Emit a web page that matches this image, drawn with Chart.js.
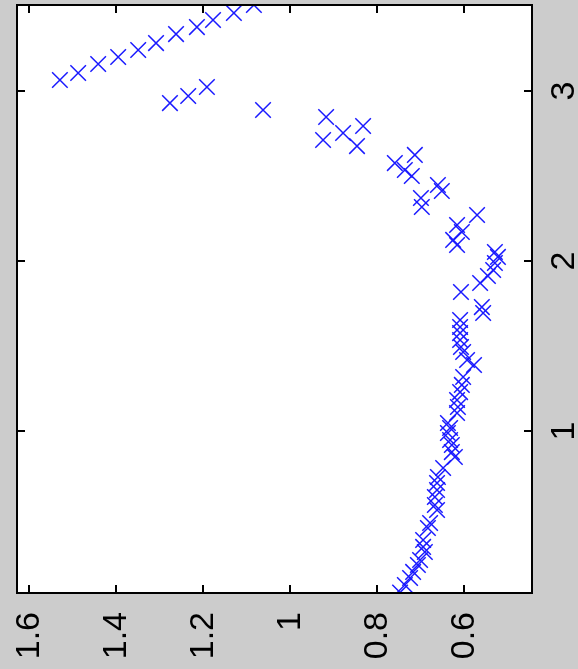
<!DOCTYPE html>
<html>
<head>
<meta charset="utf-8">
<script src="https://cdn.jsdelivr.net/npm/chart.js@4/dist/chart.umd.min.js"></script>
<style>
  html, body { margin: 0; padding: 0; background: #cccccc; }
  canvas { display: block; }
</style>
</head>
<body>
<canvas id="plot" width="578" height="669"></canvas>
<script>
// horizontal values (axis reversed, 1.6 on the left) and vertical values
const hVals = [
  1.529, 1.487, 1.441, 1.395, 1.349, 1.308, 1.262, 1.214, 1.177, 1.129, 1.083,
  1.276, 1.234, 1.191, 1.062,
  0.917, 0.924, 0.878, 0.832, 0.846,
  0.759, 0.713, 0.736, 0.720, 0.660, 0.651, 0.699, 0.697,
  0.616, 0.570, 0.605, 0.625, 0.616,
  0.529, 0.522, 0.529, 0.533, 0.545, 0.563, 0.607,
  0.559, 0.556,
  0.609, 0.609, 0.609, 0.609, 0.607, 0.602, 0.593, 0.577, 0.602, 0.605,
  0.609, 0.616, 0.614, 0.616, 0.637, 0.632, 0.637, 0.632, 0.628, 0.628,
  0.621, 0.648, 0.660, 0.662, 0.662, 0.667, 0.667, 0.662, 0.678, 0.683,
  0.694, 0.694, 0.690, 0.701, 0.706, 0.717, 0.724, 0.736, 0.747
];
const vVals = [
  3.065, 3.106, 3.159, 3.200, 3.241, 3.282, 3.335, 3.376, 3.418, 3.459, 3.506,
  2.929, 2.971, 3.024, 2.888,
  2.847, 2.712, 2.753, 2.794, 2.676,
  2.576, 2.624, 2.535, 2.500, 2.447, 2.412, 2.371, 2.318,
  2.212, 2.271, 2.171, 2.124, 2.094,
  2.053, 2.024, 1.988, 1.947, 1.912, 1.871, 1.818,
  1.729, 1.694,
  1.653, 1.612, 1.576, 1.535, 1.494, 1.465, 1.418, 1.388, 1.318, 1.271,
  1.229, 1.182, 1.141, 1.106, 1.047, 1.018, 0.988, 0.947, 0.918, 0.876,
  0.847, 0.782, 0.729, 0.694, 0.653, 0.612, 0.565, 0.535, 0.459, 0.429,
  0.359, 0.318, 0.288, 0.241, 0.212, 0.171, 0.135, 0.094, 0.050
];

const hTicks = [1.6, 1.4, 1.2, 1, 0.8, 0.6];
const hTickLabels = ["1.6", "1.4", "1.2", "1", "0.8", "0.6"];
const vTicks = [1, 2, 3];
const vTickLabels = ["1", "2", "3"];

const hRange = [0.4437, 1.6276];
const vRange = [0.047, 3.506];

const points = hVals.map((h, i) => ({ x: h, y: vVals[i] }));

const TICK_LEN = 8;
const LABEL_FONT = '34px "Liberation Sans", Arial, sans-serif';

const framePlugin = {
  id: "frame",
  beforeDatasetsDraw(chart) {
    const { ctx, chartArea: a } = chart;
    ctx.save();
    ctx.fillStyle = "#ffffff";
    ctx.fillRect(a.left, a.top, a.right - a.left, a.bottom - a.top);
    ctx.restore();
  },
  afterDatasetsDraw(chart) {
    const { ctx, chartArea: a } = chart;
    const xs = chart.scales.x;
    const ys = chart.scales.y;
    ctx.save();
    ctx.strokeStyle = "#000000";
    ctx.lineWidth = 2;
    ctx.strokeRect(a.left, a.top, a.right - a.left, a.bottom - a.top);

    ctx.beginPath();
    for (const t of hTicks) {
      const px = Math.round(xs.getPixelForValue(t));
      ctx.moveTo(px, a.bottom);
      ctx.lineTo(px, a.bottom - TICK_LEN);
      ctx.moveTo(px, a.top);
      ctx.lineTo(px, a.top + TICK_LEN);
    }
    for (const t of vTicks) {
      const py = Math.round(ys.getPixelForValue(t));
      ctx.moveTo(a.left, py);
      ctx.lineTo(a.left + TICK_LEN, py);
      ctx.moveTo(a.right, py);
      ctx.lineTo(a.right - TICK_LEN, py);
    }
    ctx.stroke();

    // rotated tick labels, reading bottom to top
    ctx.fillStyle = "#000000";
    ctx.font = LABEL_FONT;
    ctx.textBaseline = "middle";
    hTicks.forEach((t, i) => {
      const px = xs.getPixelForValue(t);
      ctx.save();
      ctx.translate(px + 1, a.bottom + 19);
      ctx.rotate(-Math.PI / 2);
      ctx.textAlign = "right";
      ctx.fillText(hTickLabels[i], 0, 0);
      ctx.restore();
    });
    vTicks.forEach((t, i) => {
      const py = ys.getPixelForValue(t);
      ctx.save();
      ctx.translate(a.right + 33, py);
      ctx.rotate(-Math.PI / 2);
      ctx.textAlign = "center";
      ctx.fillText(vTickLabels[i], 0, 0);
      ctx.restore();
    });
    ctx.restore();
  },
};

new Chart(document.getElementById("plot"), {
  type: "scatter",
  data: {
    datasets: [
      {
        data: points,
        pointStyle: "crossRot",
        pointRadius: 11,
        pointHoverRadius: 11,
        borderColor: "#1a1aff",
        backgroundColor: "#1a1aff",
        borderWidth: 1.5,
      },
    ],
  },
  options: {
    responsive: false,
    animation: false,
    devicePixelRatio: 1,
    layout: { autoPadding: false, padding: { left: 17, right: 46, top: 5, bottom: 76 } },
    plugins: { legend: { display: false }, tooltip: { enabled: false } },
    scales: {
      x: { type: "linear", reverse: true, min: hRange[0], max: hRange[1], display: false },
      y: { type: "linear", min: vRange[0], max: vRange[1], display: false },
    },
  },
  plugins: [framePlugin],
});
</script>
</body>
</html>
